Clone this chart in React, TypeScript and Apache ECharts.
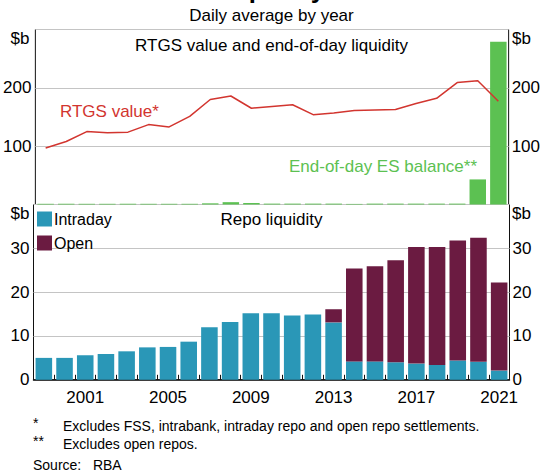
import React, { useEffect, useRef } from "react";
import * as echarts from "echarts";

const years = [
  "1999", "2000", "2001", "2002", "2003", "2004", "2005", "2006", "2007", "2008", "2009", "2010",
  "2011", "2012", "2013", "2014", "2015", "2016", "2017", "2018", "2019", "2020", "2021",
];
const rtgsValue = [97, 108, 125, 123, 124, 137, 133, 151, 180, 186, 165, 168, 171, 154, 157, 161, 162, 163, 173, 182, 209, 212, 177];
const esBalance = [1.2, 1.2, 1.2, 1.2, 1.2, 1.2, 1.2, 1.2, 2, 4, 2.5, 1.5, 1.5, 1.5, 1.5, 1.0, 1.5, 1.5, 1.5, 1.5, 1.5, 43, 279];
const intraday = [5.0, 5.0, 5.6, 5.9, 6.5, 7.4, 7.5, 8.7, 12.0, 13.2, 15.2, 15.2, 14.7, 14.9, 13.1, 4.2, 4.2, 4.0, 3.7, 3.4, 4.4, 4.1, 2.1];
const openRepo = [0, 0, 0, 0, 0, 0, 0, 0, 0, 0, 0, 0, 0, 0, 3.0, 21.2, 21.7, 23.3, 26.6, 26.9, 27.4, 28.3, 20.1];
const topTicks = [100, 200];
const bottomTicks = [0, 10, 20, 30];

const FONT = 'Arial, "Liberation Sans", sans-serif';
const RED = "#D2352F";
const GREEN = "#5CC152";
const BLUE = "#2A97B7";
const MAROON = "#6B1B41";

function txt(text: string, x: number, y: number, opts: any = {}) {
  return {
    type: "text",
    x,
    y,
    z: 100,
    style: {
      text,
      fill: opts.fill || "#000",
      fontSize: opts.fontSize || 17,
      fontFamily: FONT,
      fontWeight: opts.fontWeight || "normal",
      textAlign: opts.align || "left",
      textVerticalAlign: opts.valign || "middle",
      verticalAlign: opts.valign || "middle",
    },
  };
}

export default function App() {
  const ref = useRef<HTMLDivElement>(null);
  useEffect(() => {
    if (!ref.current) return;
    const chart = echarts.init(ref.current, null, { renderer: "svg" });
    const left = 33.5;
    const width = 476;
    const axisLabelBase = { color: "#000", fontSize: 17, fontFamily: FONT };
    const option: any = {
      animation: false,
      textStyle: { fontFamily: FONT },
      grid: [
        { left, width, top: 29.5, height: 175, show: true, borderColor: "#111", borderWidth: 1, backgroundColor: "transparent" },
        { left, width, top: 204.5, height: 175.3, show: true, borderColor: "#111", borderWidth: 1, backgroundColor: "transparent" },
      ],
      legend: {
        data: ["Intraday", "Open"],
        orient: "vertical",
        left: 32,
        top: 206,
        itemWidth: 15,
        itemHeight: 15,
        itemGap: 8,
        icon: "rect",
        textStyle: { fontSize: 16, color: "#000", fontFamily: FONT, padding: [0, 0, 0, -3] },
      },
      xAxis: [
        {
          gridIndex: 0,
          type: "category",
          data: years,
          axisLine: { show: false },
          axisTick: { show: false },
          axisLabel: { show: false },
        },
        {
          gridIndex: 1,
          type: "category",
          data: years,
          axisLine: { show: true, lineStyle: { color: "#111", width: 1.5 } },
          axisTick: { show: true, inside: true, length: 5, interval: 0, lineStyle: { color: "#111" } },
          axisLabel: {
            ...axisLabelBase,
            margin: 9,
            interval: (i: number) => (i - 2) % 4 === 0,
          },
        },
      ],
      yAxis: [
        {
          gridIndex: 0,
          type: "value",
          min: 0,
          max: 300,
          interval: 100,
          position: "left",
          axisLine: { show: false },
          axisTick: { show: false },
          splitLine: { show: true, lineStyle: { color: "#c4c4c4", width: 1 } },
          axisLabel: { ...axisLabelBase, margin: 4, formatter: (v: number) => (topTicks.includes(v) ? String(v) : "") },
        },
        {
          gridIndex: 0,
          type: "value",
          min: 0,
          max: 300,
          interval: 100,
          position: "right",
          axisLine: { show: false },
          axisTick: { show: false },
          splitLine: { show: false },
          axisLabel: { ...axisLabelBase, margin: 3, formatter: (v: number) => (topTicks.includes(v) ? String(v) : "") },
        },
        {
          gridIndex: 1,
          type: "value",
          min: 0,
          max: 40,
          interval: 10,
          position: "left",
          axisLine: { show: false },
          axisTick: { show: false },
          splitLine: { show: true, lineStyle: { color: "#c4c4c4", width: 1 } },
          axisLabel: { ...axisLabelBase, margin: 4, formatter: (v: number) => (bottomTicks.includes(v) ? String(v) : "") },
        },
        {
          gridIndex: 1,
          type: "value",
          min: 0,
          max: 40,
          interval: 10,
          position: "right",
          axisLine: { show: false },
          axisTick: { show: false },
          splitLine: { show: false },
          axisLabel: { ...axisLabelBase, margin: 3, formatter: (v: number) => (bottomTicks.includes(v) ? String(v) : "") },
        },
      ],
      series: [
        {
          name: "End-of-day ES balance",
          type: "bar",
          xAxisIndex: 0,
          yAxisIndex: 0,
          data: esBalance,
          barCategoryGap: "20%",
          itemStyle: { color: GREEN },
          z: 2,
        },
        {
          name: "RTGS value",
          type: "line",
          xAxisIndex: 0,
          yAxisIndex: 0,
          data: rtgsValue,
          symbol: "none",
          lineStyle: { color: RED, width: 1.5 },
          itemStyle: { color: RED },
          z: 5,
        },
        {
          name: "Intraday",
          type: "bar",
          xAxisIndex: 1,
          yAxisIndex: 2,
          stack: "repo",
          data: intraday,
          barCategoryGap: "20%",
          itemStyle: { color: BLUE },
        },
        {
          name: "Open",
          type: "bar",
          xAxisIndex: 1,
          yAxisIndex: 2,
          stack: "repo",
          data: openRepo,
          barCategoryGap: "20%",
          itemStyle: { color: MAROON },
        },
      ],
      graphic: [
        txt("Liquidity", 271, 1.5, { fontSize: 26, fontWeight: "bold", align: "center", valign: "bottom" }),
        txt("Daily average by year", 271.5, 15.5, { align: "center" }),
        txt("RTGS value and end-of-day liquidity", 271.5, 45, { align: "center" }),
        txt("Repo liquidity", 271.5, 219, { align: "center" }),
        txt("$b", 29.5, 38, { align: "right" }),
        txt("$b", 512, 38, { align: "left" }),
        txt("$b", 29.5, 213.5, { align: "right" }),
        txt("$b", 512, 213.5, { align: "left" }),
        txt("RTGS value*", 60, 111.5, { fill: RED }),
        txt("End-of-day ES balance**", 383, 166, { fill: GREEN, align: "center" }),
        txt("*", 33, 423, { fontSize: 14 }),
        txt("Excludes FSS, intrabank, intraday repo and open repo settlements.", 63, 426, { fontSize: 14 }),
        txt("**", 33, 441, { fontSize: 14 }),
        txt("Excludes open repos.", 63, 444, { fontSize: 14 }),
        txt("Source:   RBA", 33, 465, { fontSize: 14 }),
      ],
    };
    chart.setOption(option);
    return () => chart.dispose();
  }, []);
  return (
    <div
      ref={ref}
      style={{ position: "fixed", left: 0, top: 0, width: 543, height: 471, background: "#fff" }}
    />
  );
}
